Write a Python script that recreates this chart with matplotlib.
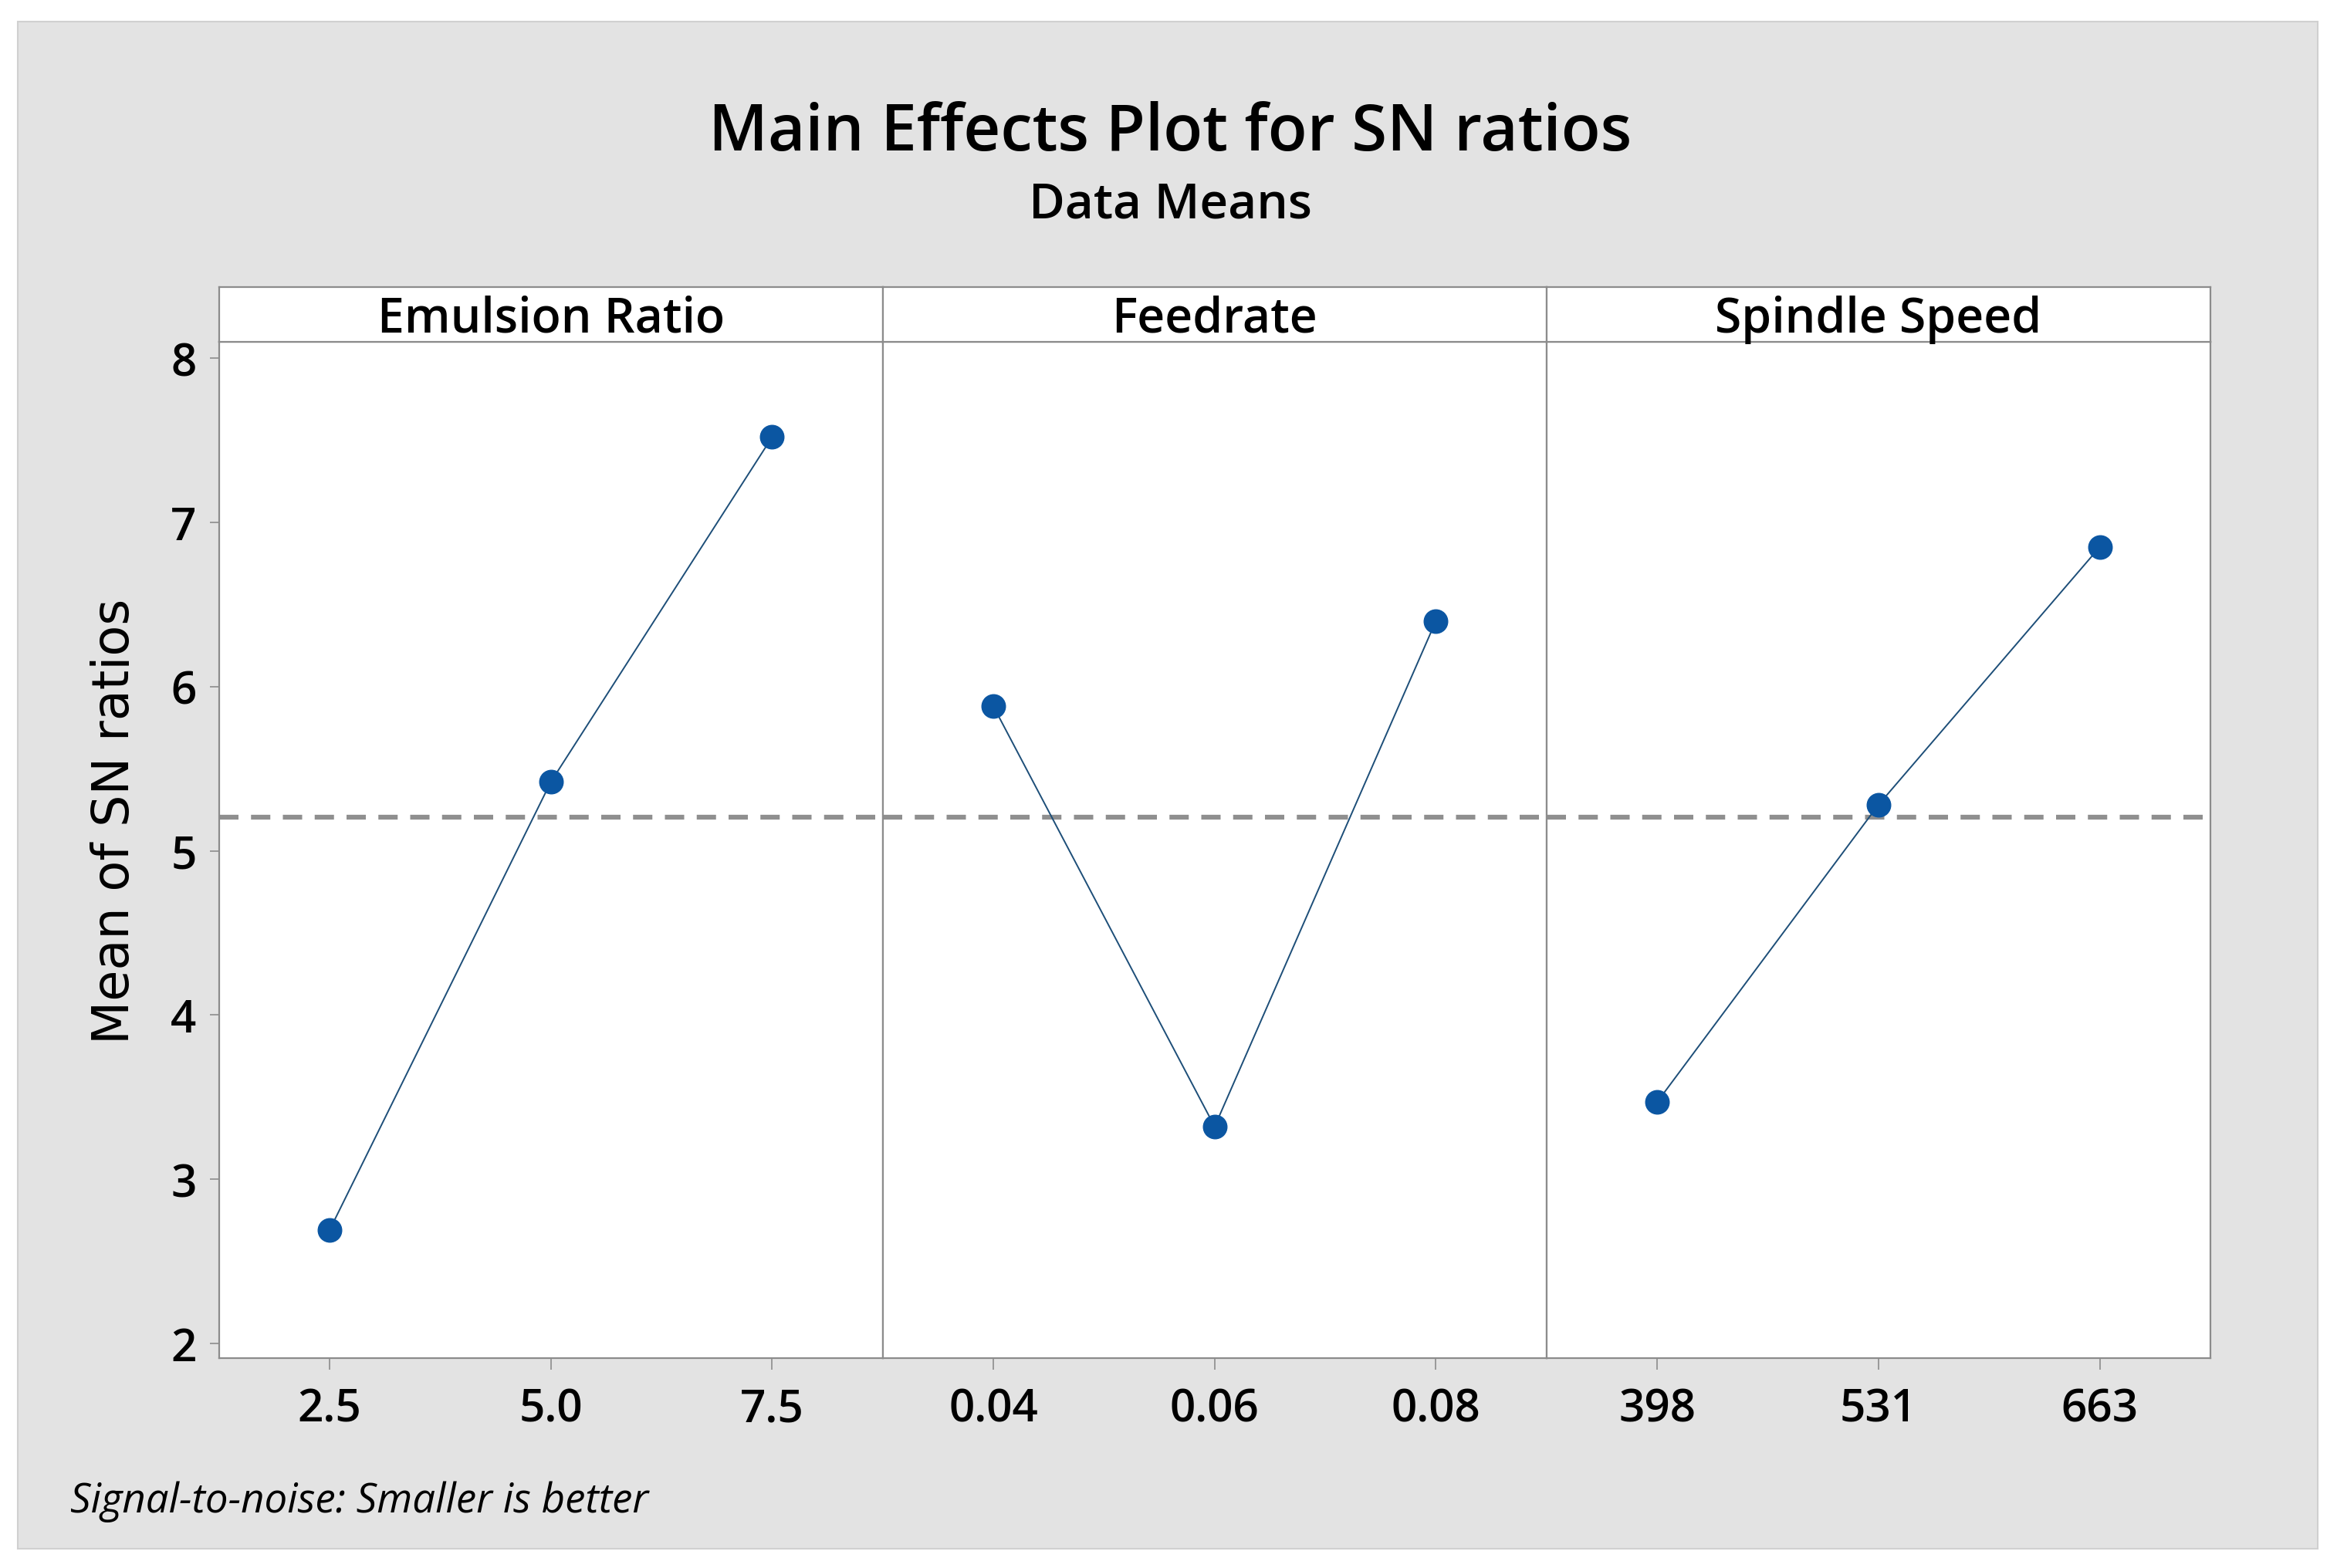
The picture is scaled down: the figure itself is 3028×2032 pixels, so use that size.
import numpy as np
import matplotlib
matplotlib.use('Agg')
import matplotlib.pyplot as plt
from matplotlib.patches import Rectangle

# factor names, level labels and mean SN ratios
factors = ["Emulsion Ratio", "Feedrate", "Spindle Speed"]
emulsion_levels = ["2.5", "5.0", "7.5"]
feedrate_levels = ["0.04", "0.06", "0.08"]
spindle_levels = ["398", "531", "663"]
emulsion_sn = [2.69, 5.42, 7.52]
feedrate_sn = [5.88, 3.32, 6.40]
spindle_sn = [3.47, 5.28, 6.85]

levels = [emulsion_levels, feedrate_levels, spindle_levels]
means = [emulsion_sn, feedrate_sn, spindle_sn]
grand_mean = np.mean(emulsion_sn + feedrate_sn + spindle_sn)

ftxt = ['Open Sans', 'DejaVu Sans']
wt = 'semibold'
blue = "#0b56a2"
linec = "#1d4e78"
edge = "#8c8c8c"

fig = plt.figure(figsize=(30.28, 20.33), dpi=100)
fig.patch.set_facecolor("white")
fig.patches.append(Rectangle((0.0076, 0.0123), 0.9841, 0.9734, transform=fig.transFigure,
                             facecolor="#e3e3e3", edgecolor="#d0d0d0", lw=1.5, zorder=-10))

left, right = 0.0937, 0.9458
bottom, top = 0.1338, 0.7816
strip_top = 0.8165
w = (right - left) / 3

for i in range(3):
    x0 = left + i * w
    ax = fig.add_axes([x0, bottom, w, top - bottom])
    ax.set_facecolor("white")
    xs = np.arange(len(levels[i]))
    ax.axhline(grand_mean, color="#8f8f8f", lw=4.5, linestyle=(0, (4, 2.6)), zorder=1)
    ax.plot(xs, means[i], color=linec, lw=1.4, zorder=2)
    ax.plot(xs, means[i], 'o', color=blue, markersize=22, zorder=3)
    ax.set_xlim(-0.5, 2.5)
    ax.set_ylim(1.91, 8.1)
    ax.set_xticks(xs)
    ax.set_xticklabels(levels[i], family=ftxt, fontsize=42, weight=wt)
    ax.tick_params(axis='x', length=11, width=1.2, color=edge, pad=16)
    if i == 0:
        ax.set_yticks([2, 3, 4, 5, 6, 7, 8])
        ax.set_yticklabels(["2", "3", "4", "5", "6", "7", "8"], family=ftxt, fontsize=42,
                           weight=wt)
        ax.tick_params(axis='y', length=9, width=1.2, color=edge, pad=12)
        ax.set_ylabel("Mean of SN ratios", fontfamily='DejaVu Sans', fontsize=47)
        ax.yaxis.set_label_coords(-0.12, 0.529)
    else:
        ax.set_yticks([])
    for s in ax.spines.values():
        s.set_color(edge)
        s.set_linewidth(1.6)

    sax = fig.add_axes([x0, top, w, strip_top - top])
    sax.set_facecolor("white")
    sax.set_xticks([])
    sax.set_yticks([])
    for s in sax.spines.values():
        s.set_color(edge)
        s.set_linewidth(1.6)
    sax.text(0.5, 0.42, factors[i], ha='center', va='center', family=ftxt, fontsize=45,
             weight=wt, transform=sax.transAxes)

fig.text(0.5007, 0.904, "Main Effects Plot for SN ratios", ha='center', va='baseline',
         family=ftxt, fontsize=60, weight=wt)
fig.text(0.5007, 0.861, "Data Means", ha='center', va='baseline', family=ftxt, fontsize=46,
         weight=wt)
fig.text(0.030, 0.036, "Signal-to-noise: Smaller is better", ha='left', va='baseline',
         family=ftxt, fontsize=38, style='italic')

fig.savefig("out.png", dpi=100, facecolor=fig.get_facecolor())
